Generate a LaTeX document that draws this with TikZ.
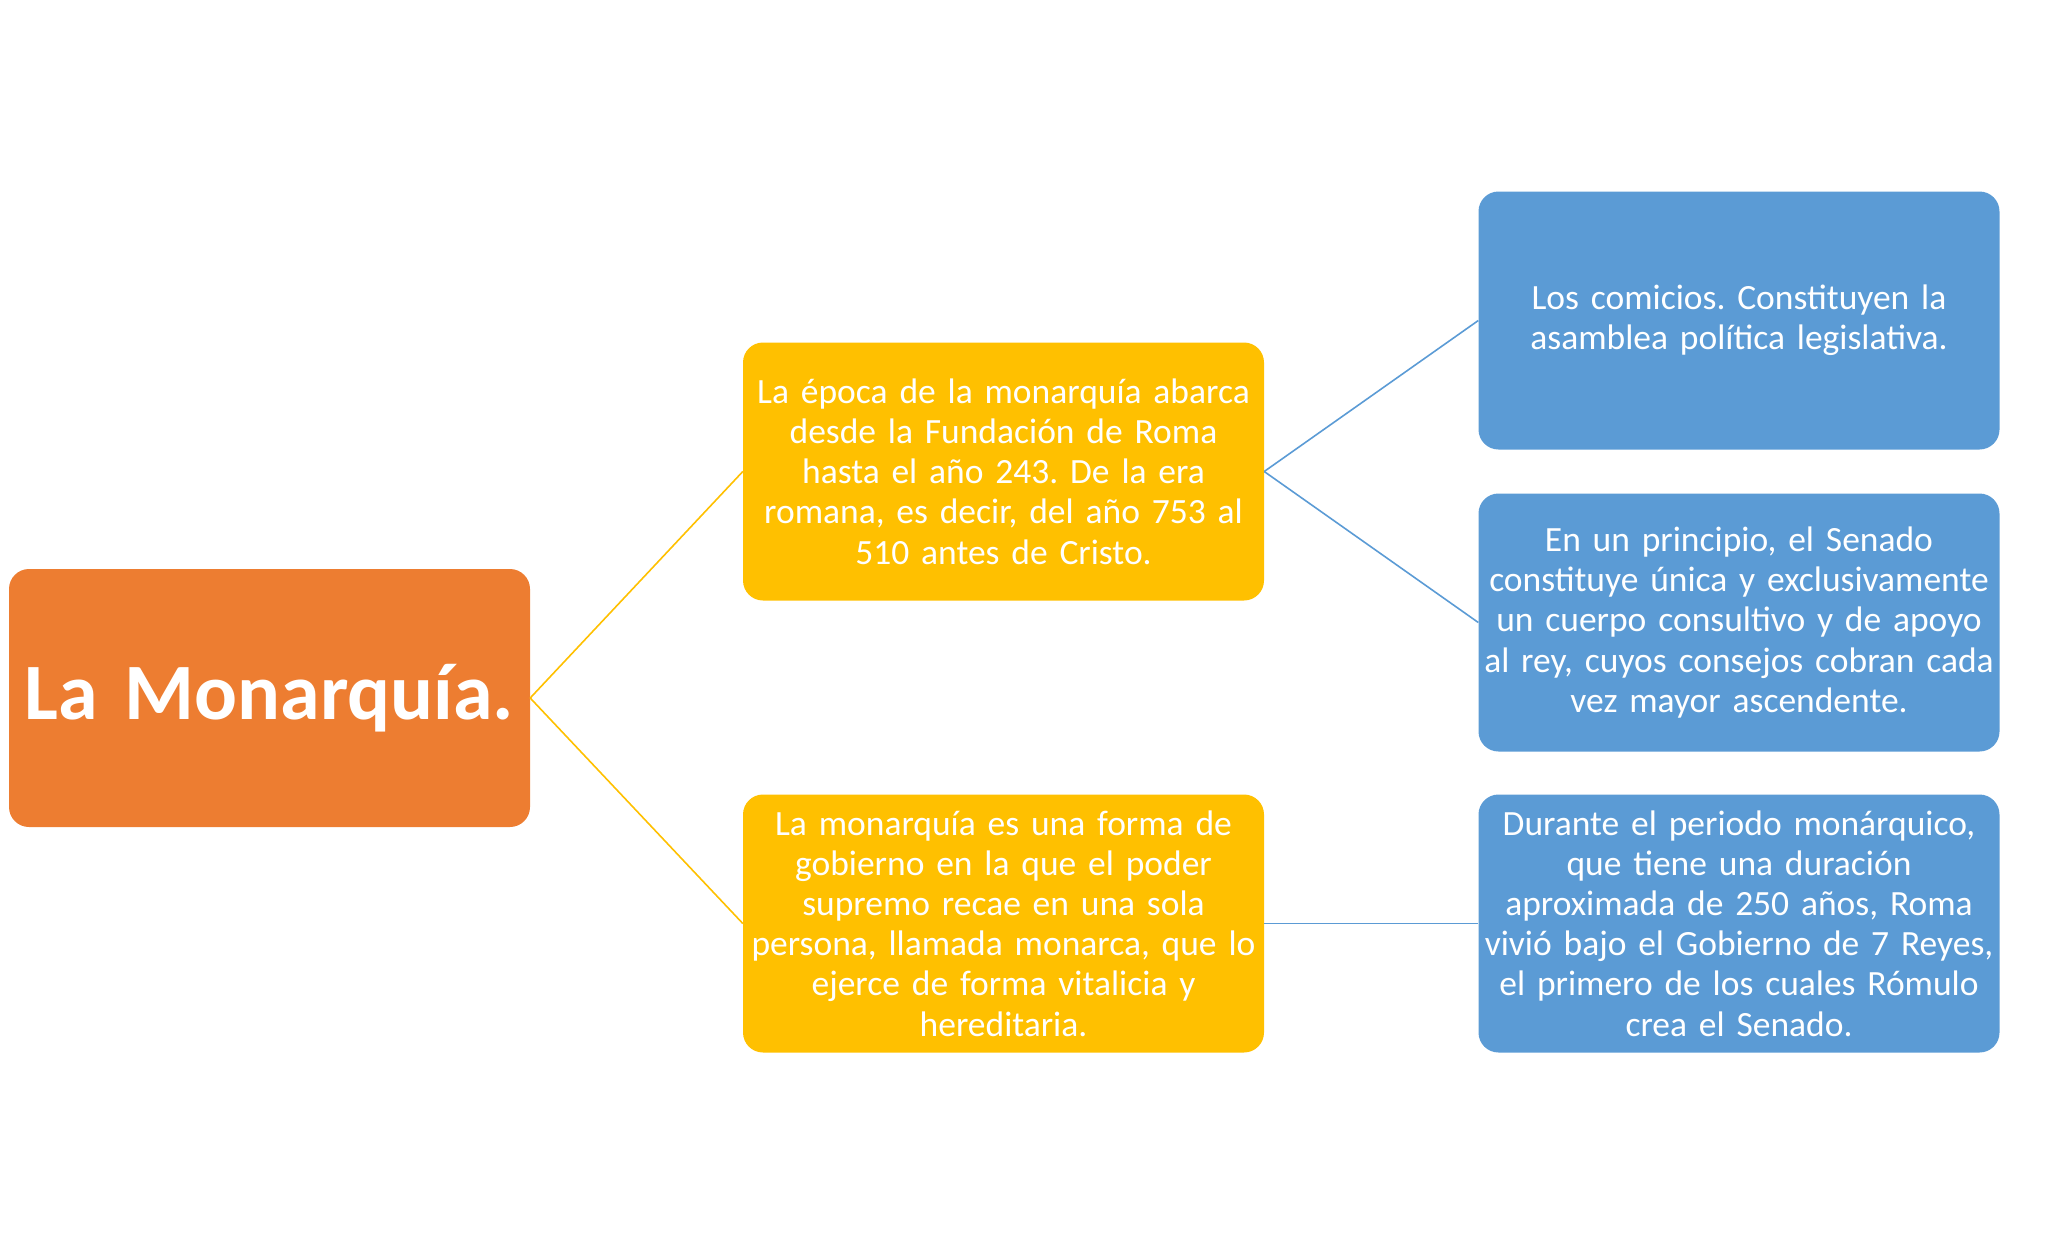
\documentclass[tikz,border=0pt]{standalone}
\usepackage{fontspec}
\setmainfont[WordSpace=0.9]{Carlito}
\frenchspacing
\definecolor{orangeC}{HTML}{ED7D31}
\definecolor{yellowC}{HTML}{FFC000}
\definecolor{blueC}{HTML}{5B9BD5}
\begin{document}
\begin{tikzpicture}[x=1pt,y=-1pt,
  box/.style={rounded corners=20pt, text=white, align=center, inner sep=0pt,
    minimum width=521pt, minimum height=258pt, text width=515pt,
    font=\fontsize{35.5}{40.2}\selectfont},
  ybox/.style={box, fill=yellowC},
  bbox/.style={box, fill=blueC},
  obox/.style={box, fill=orangeC, font=\fontsize{80}{92}\selectfont\bfseries},
  yline/.style={draw=yellowC, line width=1.6pt},
  bline/.style={draw=blueC, line width=1.6pt}]
\useasboundingbox (0,0) rectangle (2048,1243);
\node[obox] (root) at (269.5,698) {La Monarquía.};
\node[ybox] (y1) at (1003.5,471.5) {La época de la monarquía abarca\\desde la Fundación de Roma\\hasta el año 243. De la era\\romana, es decir, del año 753 al\\510 antes de Cristo.};
\node[ybox] (y2) at (1003.5,923.5) {La monarquía es una forma de\\gobierno en la que el poder\\supremo recae en una sola\\persona, llamada monarca, que lo\\ejerce de forma vitalicia y\\hereditaria.};
\node[bbox] (b1) at (1739,320.5) {Los comicios. Constituyen la\\asamblea política legislativa.};
\node[bbox] (b2) at (1739,622.5) {En un principio, el Senado\\constituye única y exclusivamente\\un cuerpo consultivo y de apoyo\\al rey, cuyos consejos cobran cada\\vez mayor ascendente.};
\node[bbox] (b3) at (1739,923.5) {Durante el periodo monárquico,\\que tiene una duración\\aproximada de 250 años, Roma\\vivió bajo el Gobierno de 7 Reyes,\\el primero de los cuales Rómulo\\crea el Senado.};
\draw[yline] (root.east) -- (y1.west);
\draw[yline] (root.east) -- (y2.west);
\draw[bline] (y1.east) -- (b1.west);
\draw[bline] (y1.east) -- (b2.west);
\draw[bline] (y2.east) -- (b3.west);
\end{tikzpicture}
\end{document}
